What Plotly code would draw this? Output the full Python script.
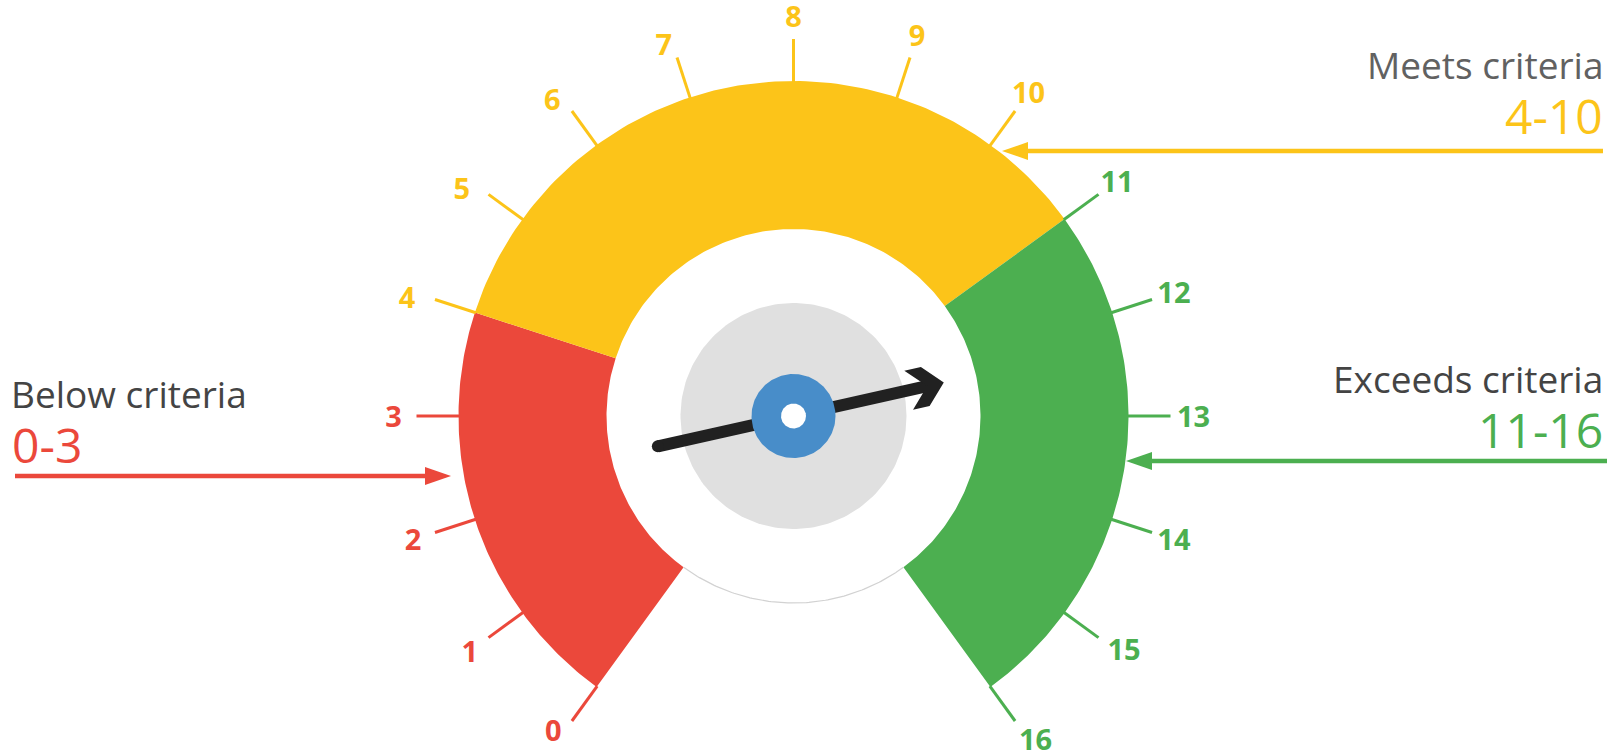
import numpy as np
import plotly.graph_objects as go

# ---------------- data ----------------
band_names = ["Below criteria", "Meets criteria", "Exceeds criteria"]
band_range_labels = ["0-3", "4-10", "11-16"]
band_starts = [0, 4, 11]
band_ends = [4, 11, 16]
band_colors = ["#EB483B", "#FCC419", "#4CAF50"]
tick_values = list(range(0, 17))
tick_labels = [str(v) for v in tick_values]
needle_value = 12.3
scale_min, scale_max = 0, 16

# ---------------- geometry / style ----------------
W, H = 1614, 754
CX, CY = 793.5, 416.0
R_IN, R_OUT = 187, 335
R_TICK = 377
R_LABEL = 400
LABEL_DY = 3.5            # compensates for text box vs. glyph centre
# small hand placement nudges of individual tick labels (pixels)
LABEL_NUDGE = {0: (-5, -9), 4: (-6, 5), 5: (-8, 7), 6: (-6, 7), 7: (-6, 9), 15: (7, -2), 16: (7, 0)}
R_HUB_GRAY, R_HUB_BLUE, R_HUB_DOT = 113, 42, 12.5
START_DEG, SWEEP = 234.0, 288.0
GRAY_TEXT = "#444444"
FONT = "Open Sans"


def ang(v):
    return np.radians(START_DEG - SWEEP * (v - scale_min) / (scale_max - scale_min))


def pt(v, r):
    a = ang(v)
    return CX + r * np.cos(a), CY - r * np.sin(a)


def band_color(v):
    for s, e, c in zip(band_starts, band_ends, band_colors):
        if s <= v < e:
            return c
    return band_colors[-1]


fig = go.Figure()

# gauge bands (annular sectors)
for s, e, c, name in zip(band_starts, band_ends, band_colors, band_names):
    vals = np.linspace(s, e, 120)
    ox, oy = pt(vals, R_OUT)
    ix, iy = pt(vals[::-1], R_IN)
    fig.add_trace(go.Scatter(
        x=np.concatenate([ox, ix]), y=np.concatenate([oy, iy]),
        fill="toself", fillcolor=c, mode="lines", line=dict(width=0, color=c),
        hoverinfo="skip", showlegend=False, name=name))

# faint shadow under the inner disc, in the open bottom gap
gap_vals = np.linspace(scale_min, scale_min - (360 - SWEEP) / SWEEP * (scale_max - scale_min), 100)
gx, gy = pt(gap_vals, R_IN)
fig.add_trace(go.Scatter(x=gx, y=gy, mode="lines", line=dict(width=1.2, color="#d2d2d2"),
                         hoverinfo="skip", showlegend=False))

# hub gray disc
t = np.linspace(0, 2 * np.pi, 200)
fig.add_trace(go.Scatter(x=CX + R_HUB_GRAY * np.cos(t), y=CY + R_HUB_GRAY * np.sin(t),
                         fill="toself", fillcolor="#E0E0E0", mode="lines",
                         line=dict(width=0, color="#E0E0E0"), hoverinfo="skip", showlegend=False))

# needle
a = ang(needle_value)
d = np.array([np.cos(a), -np.sin(a)])       # along needle (screen coords)
n = np.array([-np.sin(a), -np.cos(a)])      # perpendicular


def local(u, v):
    p = np.array([CX, CY]) + u * d + v * n
    return p[0], p[1]


tail = local(-139, 0)
head_base = local(138, 0)
fig.add_trace(go.Scatter(x=[tail[0], head_base[0]], y=[tail[1], head_base[1]], mode="lines",
                         line=dict(width=12, color="#212121"), hoverinfo="skip", showlegend=False))
fig.add_trace(go.Scatter(x=[tail[0]], y=[tail[1]], mode="markers",
                         marker=dict(size=12, color="#212121"), hoverinfo="skip", showlegend=False))
chev = [(154, 0), (135, 20), (118, 20), (137, 0), (118, -20), (135, -20), (154, 0)]
cx_, cy_ = zip(*[local(u, v) for u, v in chev])
fig.add_trace(go.Scatter(x=cx_, y=cy_, fill="toself", fillcolor="#212121", mode="lines",
                         line=dict(width=0, color="#212121"), hoverinfo="skip", showlegend=False))

# hub blue ring and white dot
for r, c in [(R_HUB_BLUE, "#488DC9"), (R_HUB_DOT, "#FFFFFF")]:
    fig.add_trace(go.Scatter(x=CX + r * np.cos(t), y=CY + r * np.sin(t), fill="toself",
                             fillcolor=c, mode="lines", line=dict(width=0, color=c),
                             hoverinfo="skip", showlegend=False))

# tick marks
for c in band_colors:
    xs, ys = [], []
    for v in tick_values:
        if band_color(v) == c:
            x0, y0 = pt(v, R_OUT - 1)
            x1, y1 = pt(v, R_TICK)
            xs += [x0, x1, None]
            ys += [y0, y1, None]
    fig.add_trace(go.Scatter(x=xs, y=ys, mode="lines", line=dict(width=3, color=c),
                             hoverinfo="skip", showlegend=False))

# tick labels
lx, ly = pt(np.array(tick_values, dtype=float), R_LABEL)
lx = lx + np.array([LABEL_NUDGE.get(v, (0, 0))[0] for v in tick_values])
ly = ly + LABEL_DY + np.array([LABEL_NUDGE.get(v, (0, 0))[1] for v in tick_values])
fig.add_trace(go.Scatter(x=lx, y=ly, mode="text", text=tick_labels,
                         textposition="middle center", cliponaxis=False,
                         textfont=dict(family=FONT, size=29, weight="bold",
                                       color=[band_color(v) for v in tick_values]),
                         hoverinfo="skip", showlegend=False))

# ---------------- side annotations ----------------
TITLE_SIZE, RANGE_SIZE = 37, 48
label_specs = [
    # (band idx, x, xanchor, title baseline y, range baseline y, title color)
    (0, 9, "left", 408, 463, GRAY_TEXT),
    (1, 1605, "right", 79, 134, "#616161"),
    (2, 1605, "right", 393, 448, GRAY_TEXT),
]
annotations = []
for i, x, xa, yt, yr, tc in label_specs:
    annotations.append(dict(x=x, y=yt - 0.388 * TITLE_SIZE, xref="x", yref="y",
                            xanchor=xa, yanchor="middle",
                            text=band_names[i], showarrow=False,
                            font=dict(family=FONT, size=TITLE_SIZE, color=tc)))
    annotations.append(dict(x=x + (1 if xa == "left" else 0), y=yr - 0.388 * RANGE_SIZE,
                            xref="x", yref="y", xanchor=xa, yanchor="middle",
                            text=band_range_labels[i], showarrow=False,
                            font=dict(family=FONT, size=RANGE_SIZE, color=band_colors[i])))

arrow_specs = [
    # (band idx, line start x, tip x, y)
    (0, 15, 451, 476),
    (1, 1603, 1002, 151),
    (2, 1607, 1126, 461),
]
shapes = []
HEAD_L, HEAD_W = 26, 9
for i, xs, xt, y in arrow_specs:
    c = band_colors[i]
    sgn = 1 if xt > xs else -1
    back = xt - sgn * HEAD_L
    shapes.append(dict(type="line", xref="x", yref="y", x0=xs, y0=y, x1=back + sgn * 2, y1=y,
                       line=dict(color=c, width=4.5)))
    shapes.append(dict(type="path", xref="x", yref="y",
                       path=f"M {xt},{y} L {back},{y - HEAD_W} L {back},{y + HEAD_W} Z",
                       fillcolor=c, line=dict(width=0)))

fig.update_layout(
    width=W, height=H, margin=dict(l=0, r=0, t=0, b=0, pad=0),
    paper_bgcolor="white", plot_bgcolor="white",
    xaxis=dict(range=[0, W], visible=False, fixedrange=True),
    yaxis=dict(range=[H, 0], visible=False, fixedrange=True),
    annotations=annotations, shapes=shapes, showlegend=False,
)

fig.write_html("out.html", config={"displayModeBar": False},
               post_script="document.body.style.margin='0';document.body.style.overflow='hidden';")
